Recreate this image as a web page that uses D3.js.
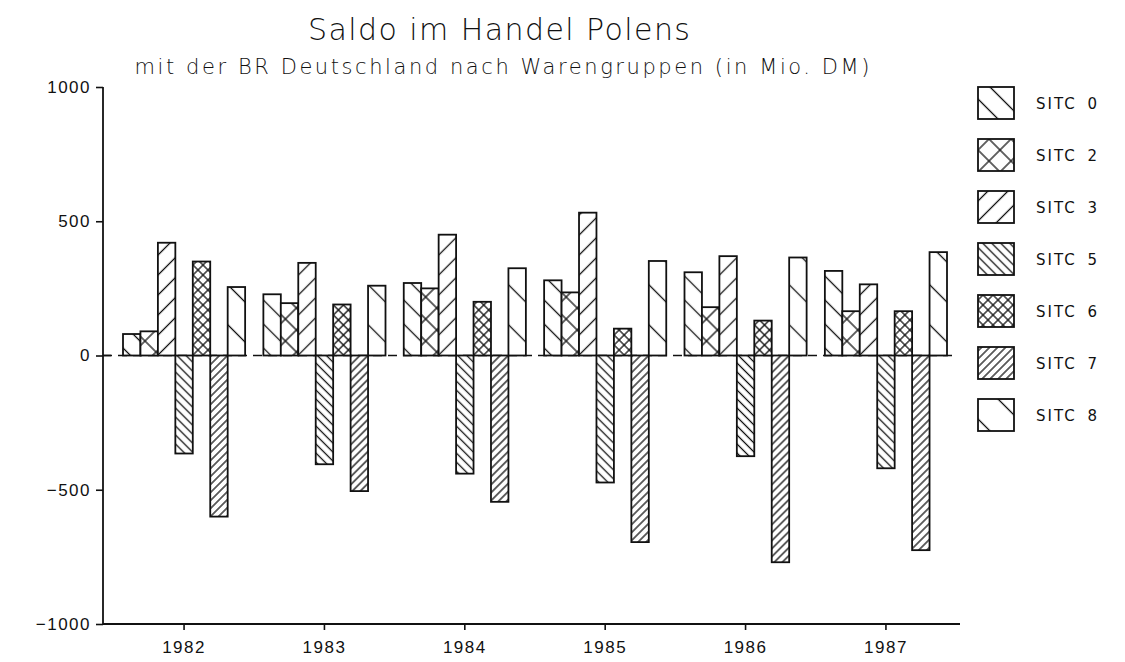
<!DOCTYPE html>
<html lang="de">
<head>
  <meta charset="utf-8" />
  <title>Saldo im Handel Polens</title>
  <script src="https://d3js.org/d3.v7.min.js"></script>
  <style>
    body{margin:0;background:#fff;}
    svg{display:block;font-family:"DejaVu Sans",sans-serif;}
    .tick text{font-size:17px;letter-spacing:1.5px;fill:#111;}
    .tick line{stroke:#111;stroke-width:1.6px;}
    .ttl{font-weight:200;fill:#111;}
  </style>
</head>
<body>
<svg id="chart" width="1125" height="662"></svg>
<script>
// -------------- DATA --------------
const YEARS=['1982','1983','1984','1985','1986','1987'];
const GROUPS=['SITC 0','SITC 2','SITC 3','SITC 5','SITC 6','SITC 7','SITC 8'];
const sitc0=[80,228,270,280,310,315];
const sitc2=[90,195,250,235,180,165];
const sitc3=[420,345,450,532,370,265];
const sitc5=[-365,-405,-440,-473,-375,-420];
const sitc6=[350,190,200,100,130,165];
const sitc7=[-600,-505,-545,-695,-770,-725];
const sitc8=[255,260,325,352,365,385];
const SERIES=[sitc0,sitc2,sitc3,sitc5,sitc6,sitc7,sitc8];
const Y_TICKS=[-1000,-500,0,500,1000];

// hatch style per group: direction + spacing
const HATCH=[
  {dir:'back',s:24},{dir:'cross',s:22},{dir:'fwd',s:20},
  {dir:'back',s:9},{dir:'cross',s:10},{dir:'fwd',s:8},{dir:'back',s:40}
];

const svg=d3.select('#chart');
const defs=svg.append('defs');
HATCH.forEach((h,i)=>{
  const d=h.s/Math.SQRT2;
  const p=defs.append('pattern').attr('id','pat'+i)
    .attr('patternUnits','userSpaceOnUse').attr('width',d).attr('height',d)
    .attr('patternTransform',h.dir==='back'?'rotate(-45)':'rotate(45)');
  p.append('rect').attr('width',d).attr('height',d).attr('fill','#fff');
  p.append('line').attr('x1',d/2).attr('x2',d/2).attr('y1',0).attr('y2',d)
    .attr('stroke','#111').attr('stroke-width',1.3);
  if(h.dir==='cross')
    p.append('line').attr('y1',d/2).attr('y2',d/2).attr('x1',0).attr('x2',d)
      .attr('stroke','#111').attr('stroke-width',1.3);
});

// -------------- SCALES --------------
const y=d3.scaleLinear().domain([-1000,1000]).range([624,87]);
const x0=d3.scaleBand().domain(YEARS).range([115,955]).paddingInner(0.13).paddingOuter(0.057);
const x1=d3.scaleBand().domain(GROUPS).range([0,x0.bandwidth()]);
const AX=103, AX_END=960;

// -------------- TITLES --------------
svg.append('text').attr('class','ttl').attr('x',499).attr('y',40).attr('text-anchor','middle')
  .attr('font-size',30).attr('textLength',382).attr('lengthAdjust','spacing')
  .text('Saldo im Handel Polens');
svg.append('text').attr('class','ttl').attr('x',502).attr('y',74).attr('text-anchor','middle')
  .attr('font-size',21).attr('textLength',735).attr('lengthAdjust','spacing')
  .text('mit der BR Deutschland nach Warengruppen (in Mio. DM)');

// -------------- AXES --------------
const yAxis=svg.append('g').attr('transform',`translate(${AX},0)`)
  .call(d3.axisLeft(y).tickValues(Y_TICKS).tickSize(7).tickPadding(5)
    .tickFormat(d=>d<0?'\u2212'+Math.abs(d):d));
yAxis.select('.domain').remove();
svg.append('line').attr('x1',AX).attr('x2',AX).attr('y1',y(1000)).attr('y2',y(-1000))
  .attr('stroke','#111').attr('stroke-width',1.8);
// zero tick crosses the axis
svg.append('line').attr('x1',AX).attr('x2',AX+8).attr('y1',y(0)).attr('y2',y(0))
  .attr('stroke','#111').attr('stroke-width',1.6);

// dashed zero line
svg.append('line').attr('x1',AX).attr('x2',AX_END-2).attr('y1',y(0)).attr('y2',y(0))
  .attr('stroke','#111').attr('stroke-width',1.4).attr('stroke-dasharray','9,6');

const xAxis=svg.append('g').attr('transform',`translate(0,${y(-1000)})`)
  .call(d3.axisBottom(x0).tickSize(6).tickPadding(11));
xAxis.select('.domain').remove();
xAxis.selectAll('.tick text').attr('letter-spacing','2.5px');
svg.append('line').attr('x1',AX).attr('x2',AX_END).attr('y1',y(-1000)).attr('y2',y(-1000))
  .attr('stroke','#111').attr('stroke-width',1.8);

// -------------- BARS --------------
YEARS.forEach((yr,j)=>{
  const g=svg.append('g').attr('transform',`translate(${x0(yr)},0)`);
  GROUPS.forEach((grp,i)=>{
    const v=SERIES[i][j];
    g.append('rect')
      .attr('x',x1(grp)).attr('width',x1.bandwidth())
      .attr('y',y(Math.max(v,0))).attr('height',Math.abs(y(v)-y(0)))
      .attr('fill',`url(#pat${i})`).attr('stroke','#111').attr('stroke-width',1.8);
  });
});

// -------------- LEGEND --------------
const leg=svg.append('g').attr('transform','translate(978,87)');
GROUPS.forEach((grp,i)=>{
  const item=leg.append('g').attr('transform',`translate(0,${i*52})`);
  item.append('rect').attr('width',36).attr('height',32)
    .attr('fill',`url(#pat${i})`).attr('stroke','#111').attr('stroke-width',1.8);
  item.append('text').attr('x',58).attr('y',22).attr('font-size',15)
    .attr('letter-spacing','2px').attr('word-spacing','4px').attr('fill','#111').text(grp);
});
</script>
</body>
</html>
